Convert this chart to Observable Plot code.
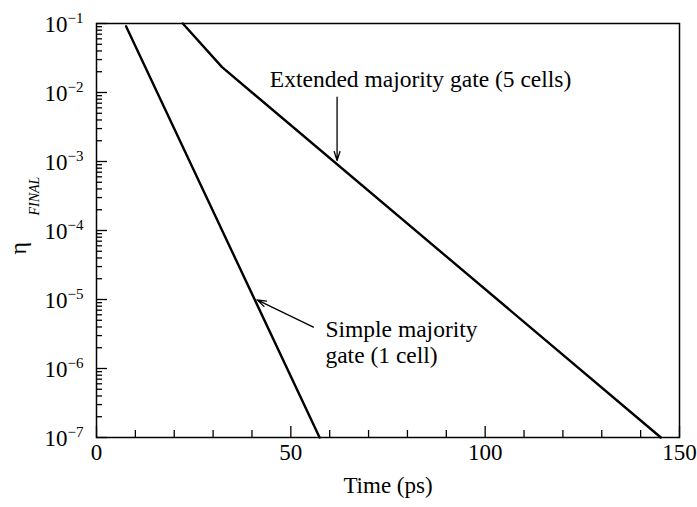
<!DOCTYPE html>
<html><head><meta charset="utf-8">
<script src="https://cdn.jsdelivr.net/npm/d3@7"></script>
<script src="https://cdn.jsdelivr.net/npm/@observablehq/plot@0.6"></script>
<style>
body{margin:0;background:#fff}
svg{font-family:"Liberation Serif","Times New Roman",serif}
</style>
</head><body><div id="chart"></div>
<script>
// Series values (time in ps, eta final)
const simpleTime = [7.6, 57.4];
const simpleEta = [0.091, 1e-7];
const extendedTime = [22.2, 32.3, 145.2];
const extendedEta = [0.1, 0.0233, 1e-7];

// Tick labels
const xTickLabels = [0, 50, 100, 150];
const xMinorTicks = [10, 20, 30, 40, 60, 70, 80, 90, 110, 120, 130, 140];
const yExponents = [-7, -6, -5, -4, -3, -2, -1];
const yMinorMantissas = [2, 3, 4, 5, 6, 7, 8, 9];

// Annotations (one entry per text line)
const annotationText = ["Extended majority gate (5 cells)", "Simple majority", "gate (1 cell)"];
const annotationTime = [44.6, 58.9, 58.9];
const annotationEta = [1.535e-2, 3.73e-6, 1.535e-6];
const arrowFromTime = [61.9, 55.8];
const arrowFromEta = [8.55e-3, 3.97e-6];
const arrowToTime = [61.9, 41.3];
const arrowToEta = [1.03e-3, 9.9e-6];

const xLabel = "Time (ps)";
const yLabelMain = "\u03b7";
const yLabelSub = "FINAL";

const simpleData = simpleTime.map((t, i) => ({t, eta: simpleEta[i]}));
const extendedData = extendedTime.map((t, i) => ({t, eta: extendedEta[i]}));
const yMajor = yExponents.map(e => Math.pow(10, e));
const yMinor = yExponents.slice(0, -1).flatMap(e => yMinorMantissas.map(m => m * Math.pow(10, e)));
const arrowIdx = [0, 1];
const textIdx = [0, 1, 2];

const chart = Plot.plot({
  width: 697,
  height: 507,
  marginLeft: 96,
  marginRight: 18,
  marginTop: 23,
  marginBottom: 70,
  x: {domain: [0, 150]},
  y: {type: "log", domain: [1e-7, 1e-1]},
  style: {fontFamily: '"Liberation Serif","Times New Roman",serif', fontSize: "23px", color: "black", background: "white", overflow: "visible"},
  marks: [
    Plot.axisX({ticks: xMinorTicks, tickSize: -7, tickFormat: () => "", label: null, strokeWidth: 1.3}),
    Plot.axisX({ticks: xTickLabels, tickSize: -11, tickFormat: () => "", label: null, strokeWidth: 1.3}),
    Plot.axisY({ticks: yMinor, tickSize: -6, tickFormat: () => "", label: null, strokeWidth: 1.3}),
    Plot.axisY({ticks: yMajor, tickSize: -11, tickFormat: () => "", label: null, strokeWidth: 1.3}),
    Plot.frame({stroke: "black", strokeWidth: 1.5}),
    Plot.text(xTickLabels, {x: d => d, frameAnchor: "bottom", dy: 22, text: d => String(d), fontSize: 23, fill: "black"}),
    Plot.text(yExponents, {y: e => Math.pow(10, e), frameAnchor: "left", text: () => "10", textAnchor: "end", dx: -29, dy: 1, fontSize: 23, fill: "black"}),
    Plot.text(yExponents, {y: e => Math.pow(10, e), frameAnchor: "left", text: e => "\u2212" + Math.abs(e), textAnchor: "start", dx: -29, dy: -5, fontSize: 15, fill: "black"}),
    Plot.text([xLabel], {frameAnchor: "bottom", dy: 55, text: d => d, fontSize: 23, fill: "black"}),
    Plot.text([yLabelMain], {frameAnchor: "left", dx: -78, dy: 24, rotate: -90, text: d => d, fontSize: 24, fill: "black"}),
    Plot.text([yLabelSub], {frameAnchor: "left", dx: -62, dy: -15, rotate: -90, text: d => d, fontSize: 14, fontStyle: "italic", fill: "black"}),
    Plot.line(simpleData, {x: "t", y: "eta", stroke: "black", strokeWidth: 2.4}),
    Plot.line(extendedData, {x: "t", y: "eta", stroke: "black", strokeWidth: 2.4}),
    Plot.arrow(arrowIdx, {x1: i => arrowFromTime[i], y1: i => arrowFromEta[i], x2: i => arrowToTime[i], y2: i => arrowToEta[i], stroke: "black", strokeWidth: 1.3, headLength: 11, headAngle: 35}),
    Plot.text(textIdx, {x: i => annotationTime[i], y: i => annotationEta[i], text: i => annotationText[i], textAnchor: "start", fontSize: 23.5, fill: "black"})
  ]
});
document.getElementById("chart").appendChild(chart);
</script>
</body></html>
